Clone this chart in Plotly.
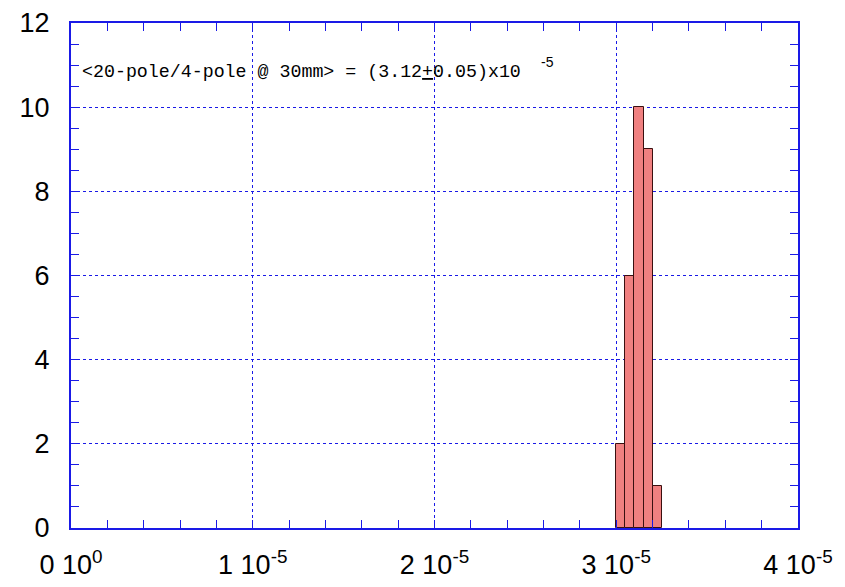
import plotly.graph_objects as go

# Data
bin_starts = [3.00e-5, 3.05e-5, 3.10e-5, 3.15e-5, 3.20e-5]
bin_width = 0.05e-5
counts = [2, 6, 10, 9, 1]
x_tickvals = [0, 1e-5, 2e-5, 3e-5, 4e-5]
x_ticktext = ["0 10<sup>0</sup>", "1 10<sup>-5</sup>", "2 10<sup>-5</sup>", "3 10<sup>-5</sup>", "4 10<sup>-5</sup>"]
y_tickvals = [0, 2, 4, 6, 8, 10, 12]
label_main = "&lt;20-pole/4-pole @ 30mm&gt; = (3.12<u>+</u>0.05)x10"
label_exp = "-5"

blue = "#1a1ae6"

fig = go.Figure()
fig.add_trace(go.Bar(
    x=[s + bin_width / 2 for s in bin_starts],
    y=counts,
    width=[bin_width] * len(counts),
    marker=dict(color="#f08080", line=dict(color="#3a1010", width=1)),
    showlegend=False,
))

axis_common = dict(
    showline=True, linecolor=blue, linewidth=2, mirror="ticks",
    ticks="inside", tickcolor=blue, ticklen=8, tickwidth=1,
    showgrid=True, gridcolor=blue, griddash="dot", gridwidth=1,
    zeroline=False, automargin=False,
    tickfont=dict(family="Liberation Sans, Arial", size=27, color="black"),
)

fig.update_xaxes(
    range=[0, 4e-5], tickvals=x_tickvals, ticktext=x_ticktext,
    minor=dict(dtick=0.2e-5, tick0=0, ticks="inside", ticklen=8, tickcolor=blue, showgrid=False),
    ticklabelstandoff=12,
    **axis_common,
)
fig.update_yaxes(
    range=[0, 12], tickvals=y_tickvals,
    minor=dict(dtick=0.5, tick0=0, ticks="inside", ticklen=8, tickcolor=blue, showgrid=False),
    ticklabelstandoff=14,
    **axis_common,
)

fig.add_annotation(
    xref="paper", yref="paper", x=0.013, y=0.903, xanchor="left", yanchor="middle",
    text=label_main, showarrow=False,
    font=dict(family="Liberation Mono, Courier New", size=18.3, color="black"),
)
fig.add_annotation(
    xref="paper", yref="paper", x=0.644, y=0.922, xanchor="left", yanchor="middle",
    text=label_exp, showarrow=False,
    font=dict(family="Liberation Sans, Arial", size=14, color="black"),
)

fig.update_layout(
    width=845, height=587,
    margin=dict(l=71, r=47, t=23, b=59),
    plot_bgcolor="white", paper_bgcolor="white",
    bargap=0,
)

fig.write_html("out.html")
